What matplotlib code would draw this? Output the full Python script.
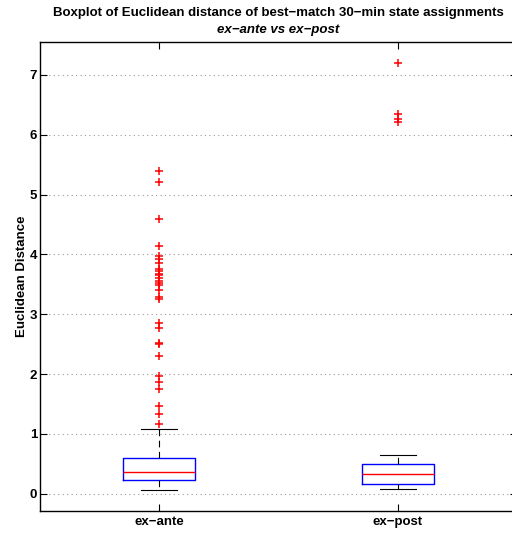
import matplotlib
matplotlib.use("Agg")
import matplotlib.pyplot as plt

plt.rcParams['font.family'] = ['Liberation Sans', 'DejaVu Sans']

# box statistics
groups = ['ex\u2212ante', 'ex\u2212post']
medians = [0.37, 0.33]
q1 = [0.22, 0.16]
q3 = [0.60, 0.50]
whislo = [0.055, 0.077]
whishi = [1.076, 0.65]
fliers_ante = [5.40, 5.21, 4.59, 4.14, 3.97, 3.93, 3.85, 3.76, 3.72, 3.68, 3.65,
               3.60, 3.55, 3.52, 3.49, 3.41, 3.29, 3.26, 2.85, 2.77, 2.52, 2.50,
               2.30, 1.97, 1.86, 1.75, 1.47, 1.33, 1.17]
fliers_post = [7.20, 6.35, 6.26, 6.21]
yticks = [0, 1, 2, 3, 4, 5, 6, 7]

stats = []
fliers = [fliers_ante, fliers_post]
for i, name in enumerate(groups):
    stats.append({'label': name, 'med': medians[i], 'q1': q1[i], 'q3': q3[i],
                  'whislo': whislo[i], 'whishi': whishi[i], 'fliers': fliers[i]})

fig = plt.figure(figsize=(5.12, 5.34), dpi=100)
ax = fig.add_axes([40 / 512, 23 / 534, 477 / 512, 469 / 534])

ax.bxp(stats, positions=[1, 2], widths=0.30, capwidths=0.15,
       boxprops=dict(color='#0000ff', linewidth=1.0),
       medianprops=dict(color='#ff0000', linewidth=1.0),
       whiskerprops=dict(color='black', linestyle=(0, (6, 4)), linewidth=0.8),
       capprops=dict(color='black', linewidth=0.8),
       flierprops=dict(marker='+', markeredgecolor='#ff0000', markersize=5.5,
                       markeredgewidth=1.1, linestyle='none'))

ax.set_xlim(0.5, 2.5)
ax.set_ylim(-0.29, 7.55)
ax.set_yticks(yticks)
ax.set_yticklabels([str(t) for t in yticks], fontweight='bold', fontsize=9.5)
ax.set_xticks([1, 2])
ax.set_xticklabels(groups, fontweight='bold', fontsize=9.5)
ax.tick_params(direction='in', length=5, top=True, right=True, width=0.8)
ax.tick_params(axis='y', pad=2)
ax.yaxis.grid(True, linestyle=(0, (1, 3)), color='#999999', linewidth=0.8)
ax.set_axisbelow(True)
for s in ax.spines.values():
    s.set_linewidth(1.0)

ax.set_ylabel('Euclidean Distance', fontweight='bold', fontsize=9.5, labelpad=1.5)
fig.text(278.5 / 512, 0.976, 'Boxplot of Euclidean distance of best\u2212match 30\u2212min state assignments',
         ha='center', va='center', fontweight='bold', fontsize=9.5)
fig.text(278.5 / 512, 0.944, 'ex\u2212ante vs ex\u2212post', ha='center', va='center',
         fontweight='bold', fontstyle='italic', fontsize=9.5)

fig.savefig('out.png', dpi=100)
